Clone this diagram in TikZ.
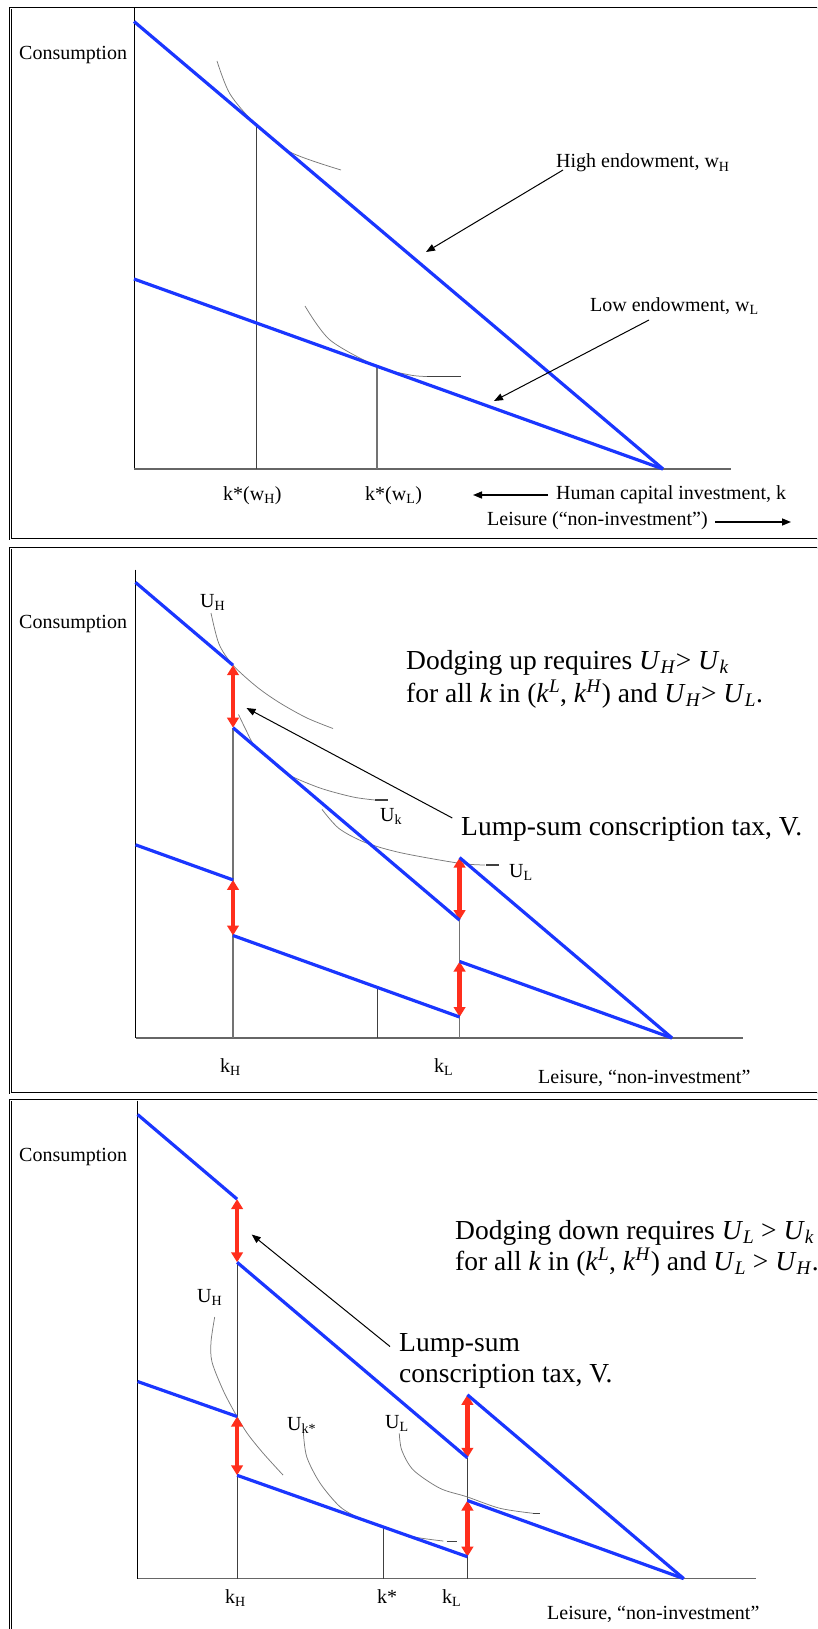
\documentclass[tikz,border=0pt]{standalone}
\usepackage{fontspec}
\setmainfont{Liberation Serif}
\usetikzlibrary{arrows.meta}
\definecolor{Budget}{HTML}{1A36FF}
\definecolor{Tax}{HTML}{FF2E1C}
\definecolor{Pencil}{HTML}{7A7A7A}
\newcommand{\Usub}[1]{\textit{U}\textsubscript{\textit{#1}}}
\newcommand{\ksup}[1]{\textit{k}\textsuperscript{\textit{#1}}}
\tikzset{budget/.style={draw=Budget,line width=3.2pt},tax/.style={<->,>={Triangle[length=10pt,width=11.5pt]},draw=Tax,line width=4.4pt},icurve/.style={draw=Pencil,line width=.75pt},tail/.style={draw=black!75,line width=1.1pt},guide/.style={draw=black!75,line width=.9pt},yaxis/.style={draw=black,line width=.9pt},xaxis/.style={draw=black!60,line width=1.5pt},note/.style={-{Triangle[length=9pt,width=7pt]},line width=1pt},lbl/.style={font=\fontsize{20}{24}\selectfont,inner sep=0pt,anchor=base west},big/.style={font=\fontsize{27.5}{33}\selectfont,inner sep=0pt,anchor=base west},frame/.style={draw=black,line width=.8pt,double=white,double distance=.8pt}}

\begin{document}
\begin{tikzpicture}[x=1pt,y=-1pt]
\useasboundingbox (0,0) rectangle (817,1629);
\clip (0,0) rectangle (817,1629);
\draw[frame] (10.5,8) rectangle (840,539);
\draw[frame] (10.5,548) rectangle (840,1093);
\draw[frame] (10.5,1100) rectangle (840,1650);
% top panel
\coordinate (aO) at (134,469);\coordinate (aY) at (134,8);\coordinate (aX) at (731,469);
\coordinate (aHi) at (134,21.5);\coordinate (aLo) at (134,279);\coordinate (aEnd) at (663,469);
\coordinate (aKH) at (256,124.7);\coordinate (aKHax) at (256,469);
\coordinate (aKL) at (377,366.3);\coordinate (aKLax) at (377,469);
\draw[yaxis] (aY)--(aO);\draw[xaxis] (aO)--(aX);
\draw[guide] (aKH)--(aKHax);\draw[guide,black!55,line width=1.3pt] (aKL)--(aKLax);
\draw[icurve] plot[smooth] coordinates {(217,61) (230,94) (256,124.7) (290,152) (341,170)};
\draw[icurve] plot[smooth] coordinates {(305,306) (330,340) (377,366.3) (410,375) (427,376.5)};
\draw[tail] (427,376.5)--(461,376.5);
\draw[budget] (aHi)--(aEnd);\draw[budget] (aLo)--(aEnd);
\node[lbl] (aCons) at (19,60) {Consumption};
\node[lbl] (aHigh) at (556,168) {High endowment, w\textsubscript{H}};
\node[lbl] (aLow) at (590,311) {Low endowment, w\textsubscript{L}};
\node[lbl] (aKHlab) at (223,500) {k*(w\textsubscript{H})};
\node[lbl] (aKLlab) at (365,500) {k*(w\textsubscript{L})};
\node[lbl] (aHum) at (556,499) {Human capital investment, k};
\node[lbl] (aLei) at (487,525) {Leisure (“non-investment”)};
\coordinate (aHighS) at (563,170);\coordinate (aHighT) at (426,252);
\coordinate (aLowS) at (649,320);\coordinate (aLowT) at (494,401);
\coordinate (aBackS) at (548,495);\coordinate (aBackT) at (473,495);
\coordinate (aFwdS) at (715,522);\coordinate (aFwdT) at (791,522);
\draw[note] (aHighS)--(aHighT);\draw[note] (aLowS)--(aLowT);
\draw[note,line width=1.5pt] (aBackS)--(aBackT);\draw[note,line width=1.5pt] (aFwdS)--(aFwdT);
% middle panel
\coordinate (bO) at (135.5,1038);\coordinate (bY) at (135.5,569.5);\coordinate (bX) at (742.6,1038);
\coordinate (bHi) at (135.5,582.4);\coordinate (bHk) at (233,665.2);\coordinate (bHkV) at (233,727.7);
\coordinate (bHl) at (459.6,857.6);\coordinate (bHlV) at (459.6,920.1);\coordinate (bEnd) at (672,1038);
\coordinate (bLo) at (135.5,844.8);\coordinate (bLk) at (233,879.9);\coordinate (bLkV) at (233,935.5);
\coordinate (bLl) at (459.6,961.5);\coordinate (bLlV) at (459.6,1017);
\coordinate (bKHax) at (233,1038);\coordinate (bKLax) at (459.6,1038);
\coordinate (bMid) at (377,986.8);\coordinate (bMidax) at (377,1038);
\draw[yaxis] (bY)--(bO);\draw[xaxis] (bO)--(bX);
\draw[guide,black!55,line width=1.3pt] (bHkV)--(bKHax);\draw[guide,black!55,line width=1.3pt] (bHl)--(bKLax);\draw[guide] (bMid)--(bMidax);
\draw[icurve] plot[smooth] coordinates {(211,613) (219,644) (233,665.2) (257,687) (280,703) (307,718) (333,728.5)};
\draw[icurve] plot[smooth] coordinates {(238.5,714.5) (246,730) (254,745) (270,760) (287,774) (320,788) (353,797) (375,800)};
\draw[tail] (375,800)--(388,800);
\draw[icurve] plot[smooth] coordinates {(322,809.4) (339,828.5) (365,842.4) (401,852.8) (459,863.2) (485,865)};
\draw[tail] (486,865)--(499,865);
\draw[tax] (bHk)--(bHkV);\draw[tax] (bLk)--(bLkV);\draw[tax] (bHl)--(bHlV);\draw[tax] (bLl)--(bLlV);
\draw[budget] (bHi)--(bHk);\draw[budget] (bHkV)--(bHlV);\draw[budget] (bHl)--(bEnd);
\draw[budget] (bLo)--(bLk);\draw[budget] (bLkV)--(bLlV);\draw[budget] (bLl)--(bEnd);
\node[lbl] (bCons) at (19,628) {Consumption};
\node[lbl] (bUH) at (200,607) {U\textsubscript{H}};
\node[lbl] (bUk) at (380,821) {U\textsubscript{k}};
\node[lbl] (bUL) at (509,877) {U\textsubscript{L}};
\node[big] (bUp1) at (406,669) {Dodging up requires \Usub{H}> \Usub{k}};
\node[big] (bUp2) at (406,702) {for all \textit{k} in (\ksup{L}, \ksup{H}) and \Usub{H}> \Usub{L}.};
\node[big] (bTax) at (461,835) {Lump-sum conscription tax, V.};
\node[lbl] (bKH) at (220,1072) {k\textsubscript{H}};
\node[lbl] (bKL) at (434,1072) {k\textsubscript{L}};
\node[lbl] (bLei) at (538,1083) {Leisure, “non-investment”};
\coordinate (bTaxS) at (452.3,818);\coordinate (bTaxT) at (246.5,708);
\draw[note] (bTaxS)--(bTaxT);
% bottom panel
\coordinate (cO) at (137.6,1578.6);\coordinate (cY) at (137.6,1100.6);\coordinate (cX) at (755.6,1578.6);
\coordinate (cHi) at (137.6,1114.5);\coordinate (cHk) at (237.1,1199.1);\coordinate (cHkV) at (237.1,1262.3);
\coordinate (cHl) at (467.4,1394.8);\coordinate (cHlV) at (467.4,1457.8);\coordinate (cEnd) at (683.7,1578.6);
\coordinate (cLo) at (137.6,1381.5);\coordinate (cLk) at (237.1,1416.5);\coordinate (cLkV) at (237.1,1475.3);
\coordinate (cLl) at (467.4,1500.5);\coordinate (cLlV) at (467.4,1556.7);
\coordinate (cKHax) at (237.1,1578.6);\coordinate (cKLax) at (467.4,1578.6);
\coordinate (cMid) at (383.5,1527);\coordinate (cMidax) at (383.5,1578.6);
\draw[yaxis] (cY)--(cO);\draw[xaxis] (cO)--(cX);
\draw[guide] (cHkV)--(cKHax);\draw[guide] (cHlV)--(cKLax);\draw[guide] (cMid)--(cMidax);
\draw[icurve] plot[smooth] coordinates {(214.7,1317) (211,1342) (212,1362) (223,1390) (235,1413) (247,1433) (263,1453) (283,1475)};
\draw[icurve] plot[smooth] coordinates {(303.3,1431.7) (306.7,1456.7) (320,1483) (340,1506.7) (360,1518.3) (383.5,1527) (413.3,1536.7) (443.3,1541)};
\draw[tail] (446.7,1541.7)--(456.7,1541.7);
\draw[icurve] plot[smooth] coordinates {(399.3,1433.3) (401.7,1450) (413.3,1470) (440,1488.3) (466.7,1496.7) (500,1508.3) (533.3,1513.3)};
\draw[tail] (533,1513.5)--(540,1513.5);
\draw[tax] (cHk)--(cHkV);\draw[tax] (cLk)--(cLkV);\draw[tax] (cHl)--(cHlV);\draw[tax] (cLl)--(cLlV);
\draw[budget] (cHi)--(cHk);\draw[budget] (cHkV)--(cHlV);\draw[budget] (cHl)--(cEnd);
\draw[budget] (cLo)--(cLk);\draw[budget] (cLkV)--(cLlV);\draw[budget] (cLl)--(cEnd);
\node[lbl] (cCons) at (19,1161) {Consumption};
\node[lbl] (cUH) at (197,1302) {U\textsubscript{H}};
\node[lbl] (cUks) at (287,1430) {U\textsubscript{k*}};
\node[lbl] (cUL) at (385,1428) {U\textsubscript{L}};
\node[big] (cDn1) at (455,1239) {Dodging down requires \Usub{L} > \Usub{k}};
\node[big] (cDn2) at (455,1270) {for all \textit{k} in (\ksup{L}, \ksup{H}) and \Usub{L} > \Usub{H}.};
\node[big] (cTax1) at (399,1351) {Lump-sum};
\node[big] (cTax2) at (399,1382) {conscription tax, V.};
\node[lbl] (cKH) at (225,1603) {k\textsubscript{H}};
\node[lbl] (cKs) at (377,1603) {k*};
\node[lbl] (cKL) at (442,1603) {k\textsubscript{L}};
\node[lbl] (cLei) at (547,1619) {Leisure, “non-investment”};
\coordinate (cTaxS) at (390,1346.5);\coordinate (cTaxT) at (251.7,1234.5);
\draw[note] (cTaxS)--(cTaxT);
\end{tikzpicture}
\end{document}
